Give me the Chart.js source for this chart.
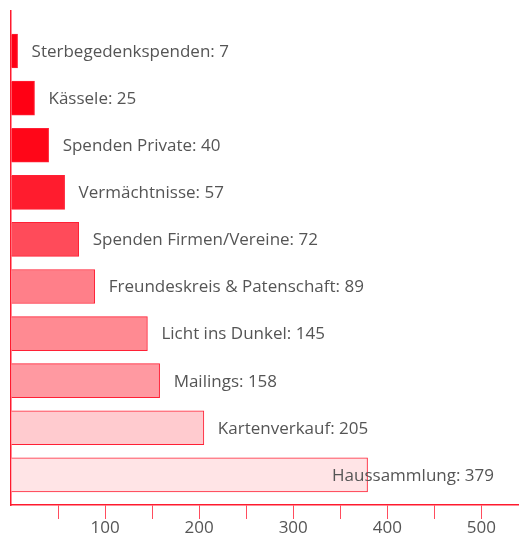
<!DOCTYPE html>
<html>
<head>
<meta charset="utf-8">
<script src="https://cdn.jsdelivr.net/npm/chart.js@4.4.1/dist/chart.umd.min.js"></script>
<style>
    html, body { margin: 0; padding: 0; background: #fff; }
    #wrap { width: 519px; height: 538px; position: relative; }
</style>
</head>
<body>
<div id="wrap"><canvas id="spenden"></canvas></div>
<script>
const categories = ['Sterbegedenkspenden', 'Kässele', 'Spenden Private', 'Vermächtnisse',
    'Spenden Firmen/Vereine', 'Freundeskreis & Patenschaft', 'Licht ins Dunkel',
    'Mailings', 'Kartenverkauf', 'Haussammlung'];
const values = [7, 25, 40, 57, 72, 89, 145, 158, 205, 379];
const barColors = ['#ff0015', '#ff0014', '#ff0618', '#ff1c2e', '#ff4b5a', '#ff7f89',
    '#ff8a92', '#ff99a1', '#ffcbcf', '#ffe4e6'];
const tickLabels = [100, 200, 300, 400, 500];

const labelFont = '17px "Open Sans"';

// value labels next to each bar, pulled back inside if they would run off the edge
const barLabels = {
    id: 'barLabels',
    afterDatasetsDraw(chart) {
        const ctx = chart.ctx;
        const meta = chart.getDatasetMeta(0);
        ctx.save();
        ctx.font = labelFont;
        ctx.fillStyle = '#555555';
        ctx.textBaseline = 'middle';
        meta.data.forEach((bar, i) => {
            const text = `${categories[i]}: ${values[i]}`;
            const w = ctx.measureText(text).width;
            let x = bar.x + 14;
            if (x + w > chart.width - 25) x = chart.width - 25 - w;
            ctx.fillText(text, x, bar.y + 1);
        });
        ctx.restore();
    }
};

new Chart(document.getElementById('spenden'), {
    type: 'bar',
    data: {
        datasets: [{
            data: values.map((v, i) => ({ x: v, y: i })),
            backgroundColor: barColors,
            borderColor: '#ff2035',
            borderWidth: 1,
            barThickness: 34
        }]
    },
    options: {
        indexAxis: 'y',
        responsive: true,
        maintainAspectRatio: false,
        animation: false,
        layout: { padding: { left: 3, right: 0, top: 11, bottom: 0 } },
        plugins: {
            legend: { display: false },
            tooltip: { enabled: false }
        },
        scales: {
            x: {
                type: 'linear',
                min: 0,
                max: 540,
                ticks: {
                    stepSize: 50,
                    includeBounds: false,
                    autoSkip: false,
                    maxRotation: 0,
                    color: '#555555',
                    font: { family: 'Open Sans', size: 17, lineHeight: 1 },
                    padding: 1,
                    callback: v => tickLabels.includes(v) ? String(v) : ''
                },
                grid: {
                    drawOnChartArea: false,
                    drawTicks: true,
                    tickLength: 14,
                    color: c => (c.tick && c.tick.value > 0 && c.tick.value % 50 === 0) ? '#ff4d5e' : 'rgba(0,0,0,0)'
                },
                border: { color: '#ff1a2e', width: 1.5 }
            },
            y: {
                type: 'linear',
                reverse: true,
                offset: false,
                bounds: 'data',
                min: -0.85,
                max: 9.64,
                ticks: { display: false },
                grid: { display: false, offset: false },
                border: { color: '#ff1a2e', width: 1.5 }
            }
        }
    },
    plugins: [barLabels]
});
</script>
</body>
</html>
